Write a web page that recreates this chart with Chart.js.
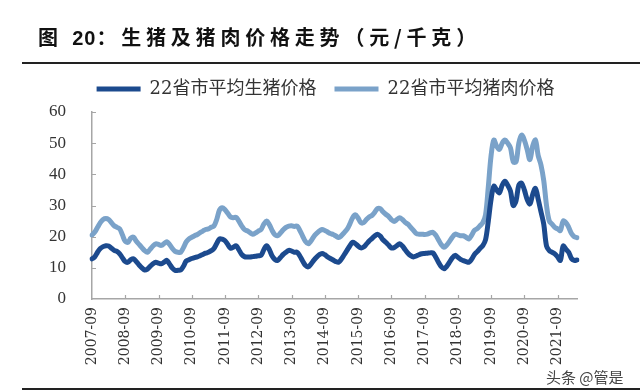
<!DOCTYPE html>
<html>
<head>
<meta charset="utf-8">
<script src="https://cdn.jsdelivr.net/npm/chart.js@4/dist/chart.umd.min.js"></script>
<style>
  html, body { margin: 0; padding: 0; background: #fff; }
  #wrap { position: relative; width: 640px; height: 392px; overflow: hidden; }
  #titre { position: absolute; left: 38px; top: 22px; font: bold 20px "Noto Sans CJK SC", sans-serif; letter-spacing: 4.8px; color: #111; white-space: nowrap; }
  #titre .num { font-family: "Liberation Sans", Arial, sans-serif; letter-spacing: 1px; }
  .trait { position: absolute; left: 22px; right: 0; height: 2px; background: #222; }
  #filigrane { position: absolute; left: 546px; top: 366px; font: 15px "Noto Sans CJK SC", sans-serif; color: #444; }
  #graph { position: absolute; left: 0; top: 0; }
</style>
</head>
<body>
<div id="wrap">
  <canvas id="graph" width="640" height="392"></canvas>
  <div id="titre">图 <span class="num">20</span>：生猪及猪肉价格走势（元/千克）</div>
  <div class="trait" style="top:62px"></div>
  <div class="trait" style="top:388px"></div>
  <div id="filigrane">头条 @管是</div>
</div>
<script>
// mois de 2007-09 a 2022-04
const mois = [];
for (let a = 2007, m = 9; a < 2022 || m <= 4; ) {
  mois.push(a + "-" + String(m).padStart(2, "0"));
  m++;
  if (m > 12) { m = 1; a++; }
}

// 22省市平均生猪价格 (元/千克)
const prixPorc = [
  12.9, 13.5, 15, 16.2, 16.8, 17.1, 17, 16.3, 15.6, 15.3, 14.5, 13.2,
  12, 11.8, 12.6, 12.9, 12, 10.9, 10, 9.3, 9.6, 10.5, 11.3, 11.8,
  11.5, 11.3, 11.8, 12.4, 11.2, 9.9, 9.2, 9.2, 9.3, 10.5, 12.2, 12.6,
  13, 13.3, 13.5, 13.9, 14.3, 14.7, 15, 15.5, 16.2, 17.8, 19.3, 19.2,
  18.7, 17.5, 16.3, 16.6, 17.1, 15.8, 14.3, 13.6, 13.5, 13.5, 13.6, 13.7,
  13.9, 14, 15.8, 17.1, 15.8, 13.8, 12.7, 12.4, 13.3, 14.3, 15, 15.6,
  15.4, 15, 15, 13.8, 12.2, 10.8, 10.3, 11.2, 12.4, 13.4, 14.2, 14.6,
  14.2, 13.5, 13, 12.5, 12, 11.8, 12.8, 14.2, 15.6, 17, 18.2, 17.8,
  17, 16.4, 16.7, 17.6, 18.6, 19.4, 20.2, 20.8, 20.2, 19, 18.2, 17.3,
  16.4, 16.5, 17.1, 17.7, 17, 15.8, 14.7, 13.9, 13.5, 13.8, 14.2, 14.5,
  14.6, 14.7, 14.8, 14.8, 13.5, 11.8, 10.4, 9.7, 10.5, 11.8, 13.2, 14,
  13.4, 12.7, 12.3, 12, 11.8, 12.8, 14.3, 15.2, 16.2, 17.1, 19, 25,
  32, 36.2, 35, 34.1, 36.5, 37.8, 36.5, 34.6, 30, 31.5, 36.5, 37.2,
  35, 32, 30.5, 33.5, 35.5, 32, 28, 24, 17, 15.5, 15, 14.5,
  13.5, 12.4, 17, 16, 15, 13, 12.4, 12.5
];

// 22省市平均猪肉价格 (元/千克)
const prixViande = [
  20.5, 21.5, 23, 24.5, 25.5, 25.8, 25.5, 24.5, 23.5, 23, 22.5, 20.5,
  18.5, 18.2, 19.5, 19.8, 18.5, 17.5, 16.5, 15.5, 15, 16, 17, 17.7,
  17.5, 17.2, 17.8, 18.4, 17.5, 16.2, 15.3, 15, 15, 16.5, 18.3, 19.3,
  19.8, 20.3, 20.7, 21.3, 21.8, 22.3, 22.5, 23, 23.4, 25.5, 28.5, 29.3,
  28.6, 27.5, 26.3, 26.1, 26.2, 25, 23.5, 22.3, 21.9, 21.3, 20.8, 21.2,
  21.8, 22.3, 24, 25, 23.8, 22, 20.6, 20.3, 21.2, 22.2, 23, 23.4,
  23.5, 23.3, 23.4, 22, 20.2, 18.5, 17.7, 18.6, 20, 21, 21.8, 22.3,
  22, 21.5, 21, 20.7, 20.2, 19.7, 20.3, 21.3, 22.3, 24, 26, 27,
  26, 24.5, 24.5, 25.5, 26.3, 26.8, 27.8, 29, 29, 28, 27.2, 26.5,
  25.5, 24.9, 25.5, 26.1, 25.5, 24.6, 24, 23, 22, 21, 20.8, 20.8,
  20.7, 20.8, 21.2, 21.4, 20.5, 19, 17.5, 16.6, 17.3, 18.5, 19.8, 20.8,
  20.6, 20.3, 20.3, 19.8, 19.3, 20.5, 22, 22.6, 23.5, 24.5, 27, 36,
  46, 51, 49, 48, 50, 51, 50, 48.5, 44, 44, 50, 52.6,
  51, 48, 44.7, 49, 51, 46, 43, 38, 30, 25, 24, 23,
  22.5, 22, 25, 24.5, 23, 21, 20, 19.7
];

const couleurAxe = "#a6a6a6";

// legende : un peu plus d'air dessous, et decalee vers la droite
const ajustLegende = {
  id: "ajustLegende",
  afterInit(chart) {
    const lg = chart.legend;
    const fitOrig = lg.fit.bind(lg);
    const drawOrig = lg.draw.bind(lg);
    lg.fit = function () { fitOrig(); this.height += 4; };
    lg.draw = function () {
      chart.ctx.save();
      chart.ctx.translate(37, 0);
      drawOrig();
      chart.ctx.restore();
    };
  }
};

// petits traits vers l'interieur sur les axes
const traitsAxes = {
  id: "traitsAxes",
  afterDatasetsDraw(chart) {
    const ctx = chart.ctx;
    const sx = chart.scales.x, sy = chart.scales.y;
    ctx.save();
    ctx.strokeStyle = couleurAxe;
    ctx.lineWidth = 1.2;
    ctx.beginPath();
    sy.ticks.forEach(t => {
      if (t.value === 0) return;
      const py = Math.round(sy.getPixelForValue(t.value)) + 0.5;
      ctx.moveTo(sx.left, py);
      ctx.lineTo(sx.left + 4, py);
    });
    mois.forEach((m, i) => {
      if (i === 0 || !m.endsWith("-09")) return;
      const px = Math.round(sx.getPixelForValue(i)) + 0.5;
      ctx.moveTo(px, sy.bottom);
      ctx.lineTo(px, sy.bottom - 4);
    });
    ctx.stroke();
    ctx.restore();
  }
};

new Chart(document.getElementById("graph"), {
  type: "line",
  data: {
    labels: mois,
    datasets: [{
      label: "22省市平均生猪价格",
      data: prixPorc,
      borderColor: "#1c4a8e",
      backgroundColor: "#1c4a8e",
      borderWidth: 5,
      borderCapStyle: "round",
      borderJoinStyle: "round",
      pointRadius: 0,
      tension: 0.35
    }, {
      label: "22省市平均猪肉价格",
      data: prixViande,
      borderColor: "#7aa2c9",
      backgroundColor: "#7aa2c9",
      borderWidth: 5,
      borderCapStyle: "round",
      borderJoinStyle: "round",
      pointRadius: 0,
      tension: 0.35
    }]
  },
  options: {
    responsive: false,
    animation: false,
    layout: { padding: { top: 62, left: 0, right: 63, bottom: 0 } },
    plugins: {
      tooltip: { enabled: false },
      legend: {
        position: "top",
        labels: {
          usePointStyle: true,
          pointStyle: "line",
          pointStyleWidth: 44,
          font: { family: "'DejaVu Serif', 'Noto Sans CJK SC', serif", size: 18 },
          color: "#333",
          padding: 18
        }
      }
    },
    scales: {
      x: {
        type: "category",
        offset: false,
        grid: { display: false, drawTicks: false },
        border: { display: true, color: couleurAxe, width: 1.5 },
        ticks: {
          autoSkip: false,
          maxRotation: 90,
          minRotation: 90,
          padding: 8,
          color: "#333",
          font: { family: "'DejaVu Serif', serif", size: 14 },
          callback: function (v) {
            const lab = this.getLabelForValue(v);
            return lab.endsWith("-09") ? lab : null;
          }
        },
        afterFit: s => { s.height = 93; }
      },
      y: {
        min: 0,
        max: 60,
        grid: { display: false, drawTicks: false },
        border: { display: true, color: couleurAxe, width: 1.5 },
        ticks: {
          stepSize: 10,
          padding: 26,
          color: "#333",
          font: { family: "'Liberation Serif', serif", size: 17 }
        },
        afterFit: s => { s.width = 92; }
      }
    }
  },
  plugins: [ajustLegende, traitsAxes]
});
</script>
</body>
</html>
